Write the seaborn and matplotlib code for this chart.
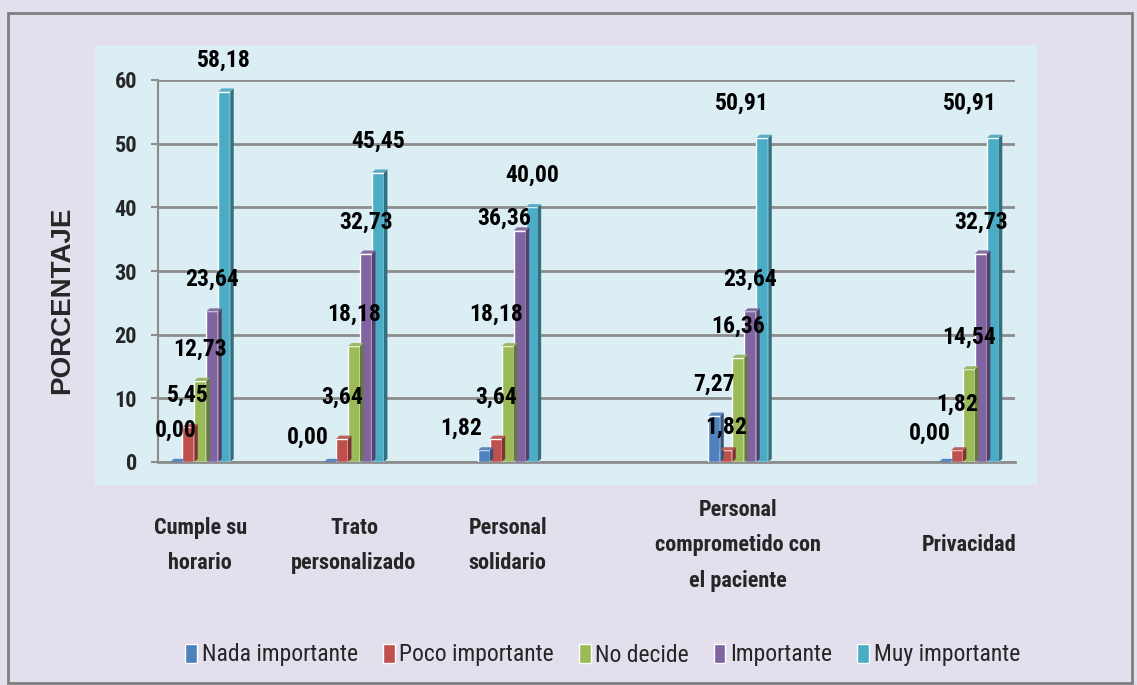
import matplotlib
matplotlib.use("Agg")
import matplotlib.pyplot as plt
import matplotlib.colors as mcolors
from matplotlib import font_manager
from matplotlib.patches import Rectangle, Polygon
import pandas as pd
import seaborn as sns

# ── Datos ────────────────────────────────────────────────────────────────
categorias = ["Cumple su\nhorario", "Trato\npersonalizado", "Personal\nsolidario",
              "Personal\ncomprometido con\nel paciente", "Privacidad"]
series = ["Nada importante", "Poco importante", "No decide", "Importante", "Muy importante"]
nada = [0.00, 0.00, 1.82, 7.27, 0.00]
poco = [5.45, 3.64, 3.64, 1.82, 1.82]
no_decide = [12.73, 18.18, 18.18, 16.36, 14.54]
importante = [23.64, 32.73, 36.36, 23.64, 32.73]
muy = [58.18, 45.45, 40.00, 50.91, 50.91]

# ── Layout / estilo ──────────────────────────────────────────────────────
posiciones = [0, 2, 4, 7, 10]          # los grupos no están equiespaciados
colores = ["#4F81BD", "#C0504D", "#9BBB59", "#8064A2", "#4BACC6"]
# ajustes manuales de etiquetas: (grupo, serie) -> (dx en unidades x, dy en %)
ajustes = {
    (1, 0): (-0.29, -1.1), (1, 1): (0.0, 1.6),
    (2, 0): (-0.30, -1.5), (2, 1): (0.0, 1.6), (2, 2): (-0.15, 0.0), (2, 3): (-0.2, -3.1),
    (3, 1): (0.0, -1.3), (3, 4): (-0.26, 0.5),
    (4, 0): (-0.2, -0.5), (4, 1): (0.0, 2.2), (4, 4): (-0.3, 0.5),
}

sns.set_style("white")
nombres = {f.name for f in font_manager.fontManager.ttflist}
estrecha = next((n for n in ["Roboto Condensed", "Liberation Sans Narrow", "Roboto"]
                 if n in nombres), "Liberation Sans")
plt.rcParams["font.family"] = [estrecha, "DejaVu Sans"]

filas = []
for i, pos in enumerate(posiciones):
    for s, vals in zip(series, [nada, poco, no_decide, importante, muy]):
        filas.append({"pos": pos, "serie": s, "valor": vals[i]})
df = pd.DataFrame(filas)

fig = plt.figure(figsize=(11.37, 6.85), dpi=100)
fig.patch.set_facecolor("#E4DFEC")
W, H = 1137, 685
fig.patches.append(Rectangle((95 / W, 1 - 485 / H), 942 / W, 440 / H,
                             transform=fig.transFigure, facecolor="#DBEEF4",
                             edgecolor="none", zorder=-2))
fig.patches.append(Rectangle((8 / W, 1 - 683 / H), 1124 / W, 670 / H,
                             transform=fig.transFigure, facecolor="none",
                             edgecolor="#7F7F7F", lw=2, zorder=-1))

ax = fig.add_axes([158 / W, 1 - 462 / H, 857 / W, 382 / H])
ax.set_zorder(2)
ax.patch.set_alpha(0)

sns.barplot(data=df, x="pos", y="valor", hue="serie", hue_order=series,
            palette=colores, native_scale=True, orient="x", width=0.39, gap=0,
            saturation=1, errorbar=None, ax=ax, zorder=3)

handles, labels = ax.get_legend_handles_labels()
if ax.legend_ is not None:
    ax.legend_.remove()

# caras laterales (efecto 3D) y etiquetas de valor
dx3, dy3 = 0.045, 0.5
for j, cont in enumerate(ax.containers):
    base = mcolors.to_rgb(colores[j])
    oscuro = tuple(c * 0.65 for c in base)
    claro = tuple(min(1, c * 0.85 + 0.1) for c in base)
    for i, bar in enumerate(cont):
        x, w, h = bar.get_x(), bar.get_width(), bar.get_height()
        ax.add_patch(Polygon([(x + w, 0), (x + w, h), (x + w + dx3, h + dy3), (x + w + dx3, dy3)],
                             closed=True, facecolor=oscuro, edgecolor="none", zorder=3))
        ax.add_patch(Polygon([(x, h), (x + w, h), (x + w + dx3, h + dy3), (x + dx3, h + dy3)],
                             closed=True, facecolor=claro, edgecolor="none", zorder=3))
        ddx, ddy = ajustes.get((i, j), (0.0, 0.0))
        ax.text(x + w / 2 + ddx, h + 5 + ddy, f"{h:.2f}".replace(".", ","),
                ha="center", va="center", fontsize=17, fontweight="bold",
                color="black", zorder=5, clip_on=False)

ax.set_xlim(-0.55, 10.6)
ax.set_ylim(0, 60)
ax.set_yticks(range(0, 61, 10))
ax.set_xticks(posiciones)
ax.set_xticklabels(categorias, fontsize=16, fontweight="bold", linespacing=1.8)
for t in ax.get_xticklabels():
    t.set_va("center")
    t.set_multialignment("center")
ax.tick_params(axis="x", length=0, pad=60)
ax.tick_params(axis="y", length=5, width=1.5, color="#8C8C8C", pad=10,
               labelsize=16, left=True)
for t in ax.get_yticklabels():
    t.set_fontweight("bold")
ax.set_xlabel("")
ax.set_ylabel("")
ax.yaxis.grid(True, color="#8C8C8C", lw=2)
ax.set_axisbelow(True)
for s in ["top", "right"]:
    ax.spines[s].set_visible(False)
ax.spines["left"].set_color("#8C8C8C")
ax.spines["left"].set_linewidth(1.5)
ax.spines["bottom"].set_color("#8C8C8C")
ax.spines["bottom"].set_linewidth(2)

fig.text(62 / W, 1 - 300 / H, "PORCENTAJE", rotation=90, ha="center", va="center",
         fontsize=20, fontweight="bold", family=["Liberation Sans", "DejaVu Sans"])

fig.legend(handles, labels, loc="center", bbox_to_anchor=(0.53, 1 - 655 / H), ncol=5,
           frameon=False, handlelength=0.5, handleheight=0.9, handletextpad=0.2,
           columnspacing=1.05, prop={"family": [estrecha, "DejaVu Sans"], "size": 17})

fig.savefig("out.png", dpi=100, facecolor=fig.get_facecolor())
